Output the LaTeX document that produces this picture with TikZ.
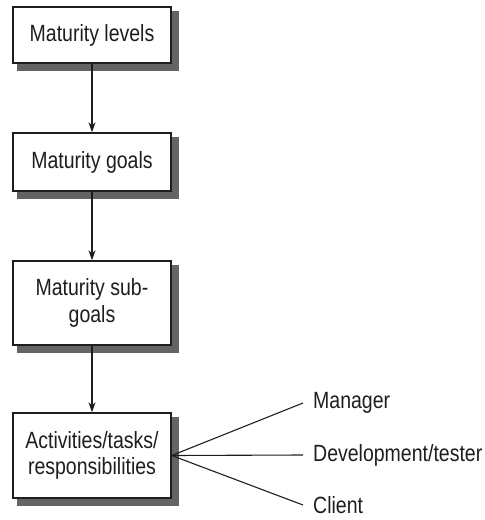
\documentclass[tikz,border=0pt]{standalone}
\usepackage{fontspec}
\setmainfont{Liberation Sans}[FakeStretch=0.83]
\usetikzlibrary{arrows.meta}
\definecolor{ink}{RGB}{30,30,30}
\definecolor{shadowgrey}{RGB}{100,100,100}
\begin{document}
\begin{tikzpicture}[x=1pt,y=-1pt,
  box/.style={draw=ink,line width=1.4pt,fill=white,minimum width=158pt,align=center,
    inner sep=0pt,font=\fontsize{23.5}{26.5}\selectfont,text=ink},
  shadline/.style={draw=shadowgrey,line width=6.5pt,line cap=butt,line join=miter},
  arr/.style={draw=ink,line width=1.1pt,-{Stealth[length=10pt,width=7pt]}},
  ln/.style={draw=ink,line width=1.1pt},
  lab/.style={anchor=west,inner sep=0pt,font=\fontsize{23.5}{26}\selectfont,text=ink}]
\useasboundingbox (0,0) rectangle (485,520);
\node[box,minimum height=56pt] (b1) at (92,35) {Maturity levels};
\node[box,minimum height=58pt] (b2) at (92,162) {Maturity goals};
\node[box,minimum height=84pt] (b3) at (92,303) {Maturity sub-\\goals};
\node[box,minimum height=85pt] (b4) at (92,455.5) {Activities/tasks/\\responsibilities};
\foreach \b in {b1,b2,b3,b4}{
  \draw[shadline] ([xshift=3.9pt,yshift=-5pt]\b.north east) -- ([xshift=3.9pt,yshift=-3.9pt]\b.south east)
    -- ([xshift=5pt,yshift=-3.9pt]\b.south west);
}
\draw[arr] (b1) -- (b2);
\draw[arr] (b2) -- (b3);
\draw[arr] (b3) -- (b4);
\coordinate (e1) at (303,403);
\coordinate (e2) at (303,455);
\coordinate (e3) at (303,505);
\node[lab] (l1) at (313,403) {Manager};
\node[lab] (l2) at (313,455) {Development/tester};
\node[lab] (l3) at (313,505) {Client};
\draw[ln] (b4.east) -- (e1);
\draw[ln] (b4.east) -- (e2);
\draw[ln] (b4.east) -- (e3);
\end{tikzpicture}
\end{document}
